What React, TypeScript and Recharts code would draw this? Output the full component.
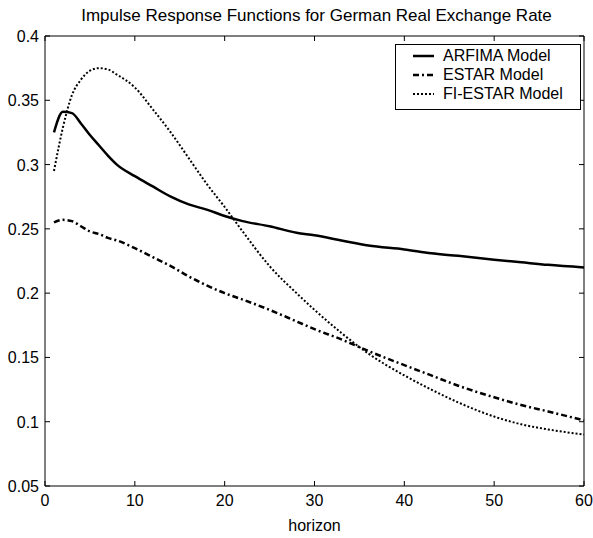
import { LineChart, Line, XAxis, YAxis } from "recharts";

const horizons = [1, 2, 3, 4, 5, 6, 7, 8, 10, 12, 14, 16, 18, 20, 22, 25, 28, 30, 33, 36, 40, 43, 46, 50, 53, 56, 60];
const arfima = [0.325, 0.341, 0.34, 0.332, 0.323, 0.315, 0.307, 0.3, 0.291, 0.283, 0.275, 0.269, 0.265, 0.26, 0.256, 0.252, 0.247, 0.245, 0.241, 0.237, 0.234, 0.231, 0.229, 0.226, 0.224, 0.222, 0.22];
const estar = [0.255, 0.257, 0.256, 0.252, 0.248, 0.246, 0.243, 0.241, 0.235, 0.228, 0.221, 0.213, 0.206, 0.2, 0.195, 0.187, 0.178, 0.172, 0.164, 0.155, 0.144, 0.136, 0.128, 0.119, 0.113, 0.108, 0.101];
const fiEstar = [0.295, 0.329, 0.354, 0.366, 0.373, 0.375, 0.374, 0.37, 0.36, 0.343, 0.325, 0.305, 0.285, 0.267, 0.248, 0.221, 0.2, 0.187, 0.169, 0.153, 0.136, 0.125, 0.115, 0.104, 0.098, 0.094, 0.09];

const xTicks = [0, 10, 20, 30, 40, 50, 60];
const yTicks = [0.05, 0.1, 0.15, 0.2, 0.25, 0.3, 0.35, 0.4];

const series = [
    { key: "arfima", name: "ARFIMA Model", width: 2.5, dash: undefined },
    { key: "estar", name: "ESTAR Model", width: 2.5, dash: "6 3 2 3" },
    { key: "fiEstar", name: "FI-ESTAR Model", width: 2, dash: "2 2" },
];

const data = horizons.map((h, i) => ({
    h,
    arfima: arfima[i],
    estar: estar[i],
    fiEstar: fiEstar[i],
}));

const FONT = "'Liberation Sans', Arial, Helvetica, sans-serif";
const TICK = 5;

function BottomTick(props: any) {
    const { x, y, payload } = props;
    return (
        <g>
            <line x1={x} x2={x} y1={y} y2={y - TICK} stroke="#000" />
            <text x={x} y={y + 20} textAnchor="middle" fontSize={16} fontFamily={FONT} fill="#000">
                {String(payload.value)}
            </text>
        </g>
    );
}

function TopTick(props: any) {
    const { x, y } = props;
    return <line x1={x} x2={x} y1={y} y2={y + TICK} stroke="#000" />;
}

function LeftTick(props: any) {
    const { x, y, payload } = props;
    return (
        <g>
            <line x1={x} x2={x + TICK} y1={y} y2={y} stroke="#000" />
            <text x={x - 6} y={y + 6} textAnchor="end" fontSize={16} fontFamily={FONT} fill="#000">
                {String(payload.value)}
            </text>
        </g>
    );
}

function RightTick(props: any) {
    const { x, y } = props;
    return <line x1={x} x2={x - TICK} y1={y} y2={y} stroke="#000" />;
}

export default function App() {
    return (
        <div style={{ position: "absolute", left: 0, top: 0, width: 593, height: 538, background: "#fff" }}>
            <LineChart width={593} height={538} data={data} margin={{ top: 0, right: 0, bottom: 0, left: 0 }}>
                <XAxis
                    dataKey="h"
                    type="number"
                    domain={[0, 60]}
                    ticks={xTicks}
                    height={52}
                    tickSize={0}
                    tickMargin={0}
                    tickLine={false}
                    axisLine={{ stroke: "#000" }}
                    tick={<BottomTick />}
                    interval={0}
                    label={{ value: "horizon", position: "insideBottom", offset: 7, fontSize: 16, fontFamily: FONT, fill: "#000" }}
                />
                <XAxis
                    xAxisId="top"
                    orientation="top"
                    dataKey="h"
                    type="number"
                    domain={[0, 60]}
                    ticks={xTicks}
                    height={36}
                    tickSize={0}
                    tickMargin={0}
                    tickLine={false}
                    axisLine={{ stroke: "#000" }}
                    tick={<TopTick />}
                    interval={0}
                />
                <YAxis
                    type="number"
                    domain={[0.05, 0.4]}
                    ticks={yTicks}
                    width={45}
                    tickSize={0}
                    tickMargin={0}
                    tickLine={false}
                    axisLine={{ stroke: "#000" }}
                    tick={<LeftTick />}
                    interval={0}
                    allowDataOverflow
                />
                <YAxis
                    yAxisId="right"
                    orientation="right"
                    type="number"
                    domain={[0.05, 0.4]}
                    ticks={yTicks}
                    width={9}
                    tickSize={0}
                    tickMargin={0}
                    tickLine={false}
                    axisLine={{ stroke: "#000" }}
                    tick={<RightTick />}
                    interval={0}
                    allowDataOverflow
                />
                {series.map((s) => (
                    <Line
                        key={s.key}
                        dataKey={s.key}
                        type="monotone"
                        stroke="#000"
                        strokeWidth={s.width}
                        strokeDasharray={s.dash}
                        dot={false}
                        isAnimationActive={false}
                    />
                ))}
            </LineChart>
            <div
                style={{
                    position: "absolute",
                    left: 0,
                    width: 633,
                    top: 6,
                    textAlign: "center",
                    fontFamily: FONT,
                    fontSize: 17,
                    lineHeight: "20px",
                    color: "#000",
                }}
            >
                Impulse Response Functions for German Real Exchange Rate
            </div>
            <div
                style={{
                    position: "absolute",
                    left: 395,
                    top: 44,
                    width: 186,
                    height: 66,
                    border: "1px solid #000",
                    background: "#fff",
                    fontFamily: FONT,
                    fontSize: 16,
                    lineHeight: "18px",
                    color: "#000",
                    boxSizing: "border-box",
                    paddingTop: 1,
                }}
            >
                {series.map((s) => (
                    <div key={s.key} style={{ display: "flex", alignItems: "center", height: 19 }}>
                        <svg width={47} height={19} style={{ flex: "none" }}>
                            <line x1={17} x2={38} y1={10} y2={10} stroke="#000" strokeWidth={s.width} strokeDasharray={s.dash} />
                        </svg>
                        <span>{s.name}</span>
                    </div>
                ))}
            </div>
        </div>
    );
}
